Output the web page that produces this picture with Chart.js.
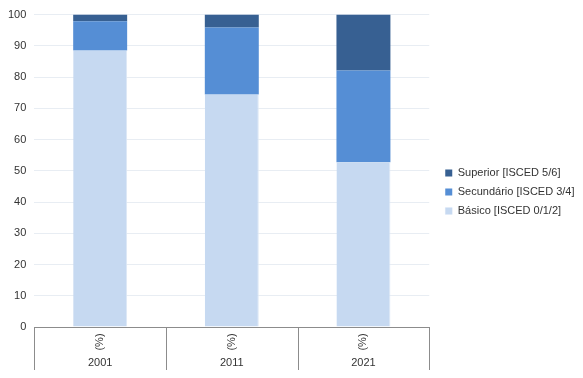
<!DOCTYPE html>
<html>
<head>
<meta charset="utf-8">
<script src="https://cdn.jsdelivr.net/npm/chart.js@4"></script>
<style>
  html, body { margin: 0; padding: 0; background: #fff; }
  #wrap { width: 583px; height: 378px; }
</style>
</head>
<body>
<div id="wrap"><canvas id="myChart"></canvas></div>
<script>
const years = ['2001', '2011', '2021'];
const unitLabel = '(%)';
const basico = [88.5, 74.4, 52.7];
const secundario = [9.4, 21.5, 29.4];
const superior = [2.1, 4.1, 17.9];

const tableHeight = 43;
const legendGap = 8;

// draws the table-like category axis under the plot
const tableAxis = {
    id: 'tableAxis',
    afterDraw(chart) {
        const c = chart.ctx;
        const x = chart.scales.x;
        const top = chart.chartArea.bottom;
        const bottom = top + tableHeight;
        c.save();
        c.strokeStyle = '#8c8c8c';
        c.lineWidth = 1;
        const step = x.getPixelForValue(1) - x.getPixelForValue(0);
        for (let i = 0; i <= years.length; i++) {
            const px = Math.round(x.getPixelForValue(i) - step / 2) + 0.5;
            c.beginPath();
            c.moveTo(px, top);
            c.lineTo(px, bottom);
            c.stroke();
        }
        c.fillStyle = '#333333';
        c.font = '11px "Liberation Sans", Arial, sans-serif';
        c.textAlign = 'center';
        c.textBaseline = 'middle';
        for (let i = 0; i < years.length; i++) {
            const px = x.getPixelForValue(i);
            c.save();
            c.translate(px, top + 15);
            c.rotate(-Math.PI / 2);
            c.fillText(unitLabel, 0, 0);
            c.restore();
            c.fillText(years[i], px, top + 36);
        }
        c.restore();
    }
};

// a bit more room between plot and legend
const legendSpace = {
    id: 'legendSpace',
    beforeLayout(chart) {
        const lg = chart.legend;
        if (lg && !lg._patched) {
            const fit = lg.fit;
            lg.fit = function () {
                fit.call(this);
                this.width += legendGap;
            };
            lg._patched = true;
        }
    },
    afterLayout(chart) {
        if (chart.legend) {
            chart.legend.left += legendGap;
        }
    }
};

const data = {
    labels: years,
    datasets: [{
        label: 'Básico [ISCED 0/1/2]',
        data: basico,
        backgroundColor: '#c6d9f1',
        borderColor: '#dde8f6',
        borderWidth: { left: 0, right: 1, top: 0, bottom: 0 },
    }, {
        label: 'Secundário [ISCED 3/4]',
        data: secundario,
        backgroundColor: '#558ed5',
    }, {
        label: 'Superior [ISCED 5/6]',
        data: superior,
        backgroundColor: '#376092',
    }]
};

const config = {
    type: 'bar',
    data: data,
    plugins: [tableAxis, legendSpace],
    options: {
        responsive: true,
        maintainAspectRatio: false,
        animation: false,
        layout: { padding: { top: 14, bottom: 8, left: 0, right: 0 } },
        datasets: {
            bar: { categoryPercentage: 1.0, barPercentage: 0.41 }
        },
        plugins: {
            tooltip: { enabled: false },
            legend: {
                position: 'right',
                reverse: true,
                labels: {
                    boxWidth: 7,
                    boxHeight: 7,
                    padding: 8,
                    color: '#333333',
                    font: { family: '"Liberation Sans", Arial, sans-serif', size: 11 }
                }
            }
        },
        scales: {
            x: {
                stacked: true,
                ticks: { display: false },
                grid: { display: false },
                border: { display: true, color: '#8c8c8c' },
                afterFit: (s) => { s.height = tableHeight; }
            },
            y: {
                stacked: true,
                min: 0,
                max: 100,
                ticks: {
                    stepSize: 10,
                    padding: 8,
                    color: '#333333',
                    font: { family: '"Liberation Sans", Arial, sans-serif', size: 11 }
                },
                grid: { color: '#e8edf3', tickLength: 0 },
                border: { display: false }
            }
        }
    }
};

const myChart = new Chart(document.getElementById('myChart'), config);
</script>
</body>
</html>
